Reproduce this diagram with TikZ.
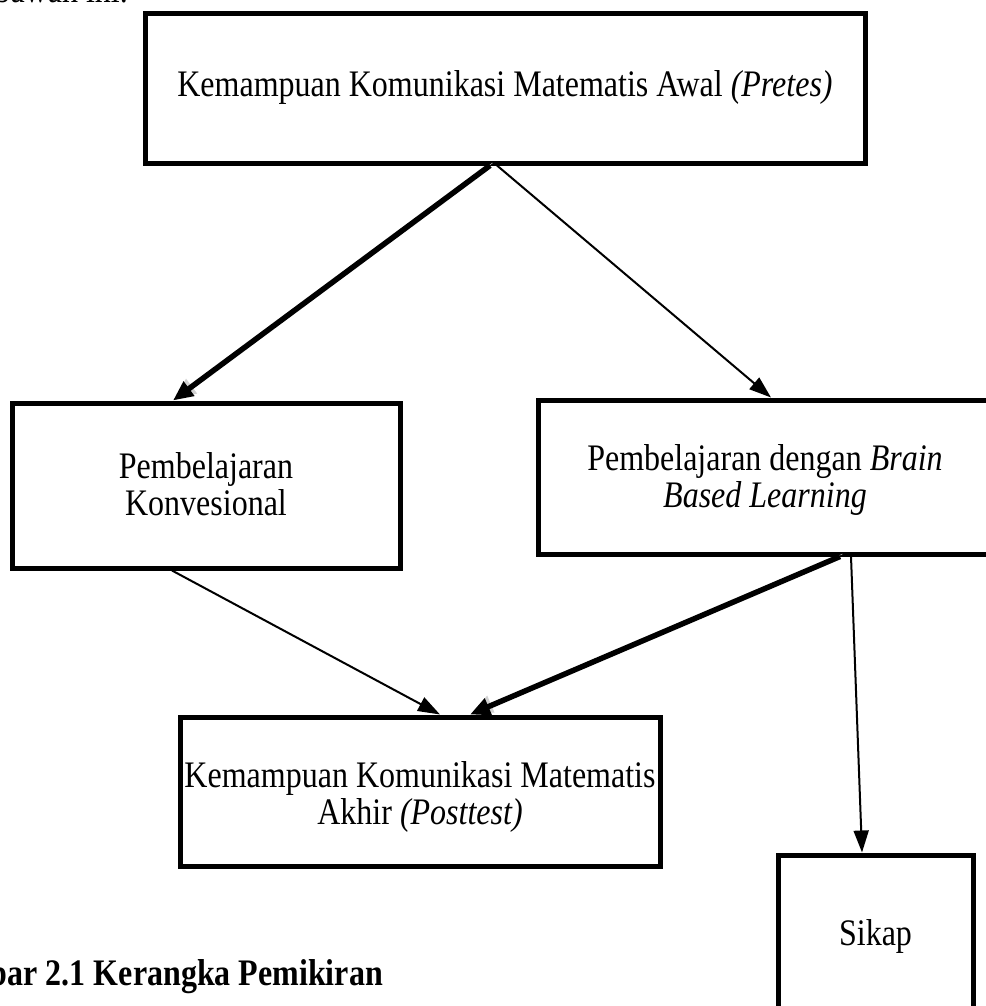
\documentclass[tikz,border=0pt]{standalone}
\usepackage{fontspec}
\usepackage{graphicx}
\setmainfont{Liberation Serif}
\usetikzlibrary{arrows.meta}
\newcommand\tallt[1]{\scalebox{1}[1.17]{\begin{tabular}[t]{@{}c@{}}#1\end{tabular}}}
\begin{document}
\begin{tikzpicture}[x=1pt,y=-1pt,
  box/.style={draw=black,line width=5pt,rectangle,inner sep=0pt,align=center,
    font=\fontsize{32}{31.6}\selectfont},
  plain/.style={inner sep=0pt,font=\fontsize{32}{31.6}\selectfont},
  shade/.style={preaction={draw=black!18,transform canvas={shift={(2.5pt,2.5pt)}}}},
  thickarrow/.style={line width=5.5pt,-{Triangle[length=20pt,width=17pt]},shade},
  thinarrow/.style={line width=2pt,-{Triangle[length=22pt,width=15pt]}}]
\useasboundingbox (0,0) rectangle (985,1006);
\node[plain,anchor=base east] (intro) at (128,3) {\tallt{bawah ini.}};
\node[box,minimum width=720pt,minimum height=149pt,text height=27pt,text depth=10pt] (top) at (505,88.5)
  {\tallt{Kemampuan Komunikasi Matematis Awal \textit{(Pretes)}}};
\node[box,minimum width=388pt,minimum height=165pt,text height=10pt,text depth=25pt] (konv) at (206,485.5)
  {\tallt{Pembelajaran\\Konvesional}};
\node[box,minimum width=454pt,minimum height=154pt,text height=10pt,text depth=24pt] (bbl) at (765,477)
  {\tallt{Pembelajaran dengan \textit{Brain}\\\textit{Based Learning}}};
\node[box,minimum width=480pt,minimum height=149pt,text height=15pt,text depth=24pt] (akhir) at (420,791.5)
  {\tallt{Kemampuan Komunikasi Matematis\\Akhir \textit{(Posttest)}}};
\node[box,minimum width=195pt,minimum height=164pt,text height=26pt,text depth=10pt] (sikap) at (875.5,937)
  {\tallt{Sikap}};
\node[plain,anchor=base east,font=\fontsize{32}{31.6}\selectfont\bfseries] (cap) at (383,985)
  {\tallt{Gambar 2.1 Kerangka Pemikiran}};
\draw[thickarrow] ([xshift=-15pt]top.south) -- ([xshift=-33pt]konv.north);
\draw[thinarrow] ([xshift=-8pt]top.south) -- ([xshift=6pt]bbl.north);
\draw[thinarrow] ([xshift=-34pt]konv.south) -- ([xshift=20pt]akhir.north);
\draw[thickarrow] ([xshift=75pt]bbl.south) -- ([xshift=50pt]akhir.north);
\draw[thinarrow] ([xshift=86pt]bbl.south) -- ([xshift=-13.5pt]sikap.north);
\end{tikzpicture}
\end{document}
